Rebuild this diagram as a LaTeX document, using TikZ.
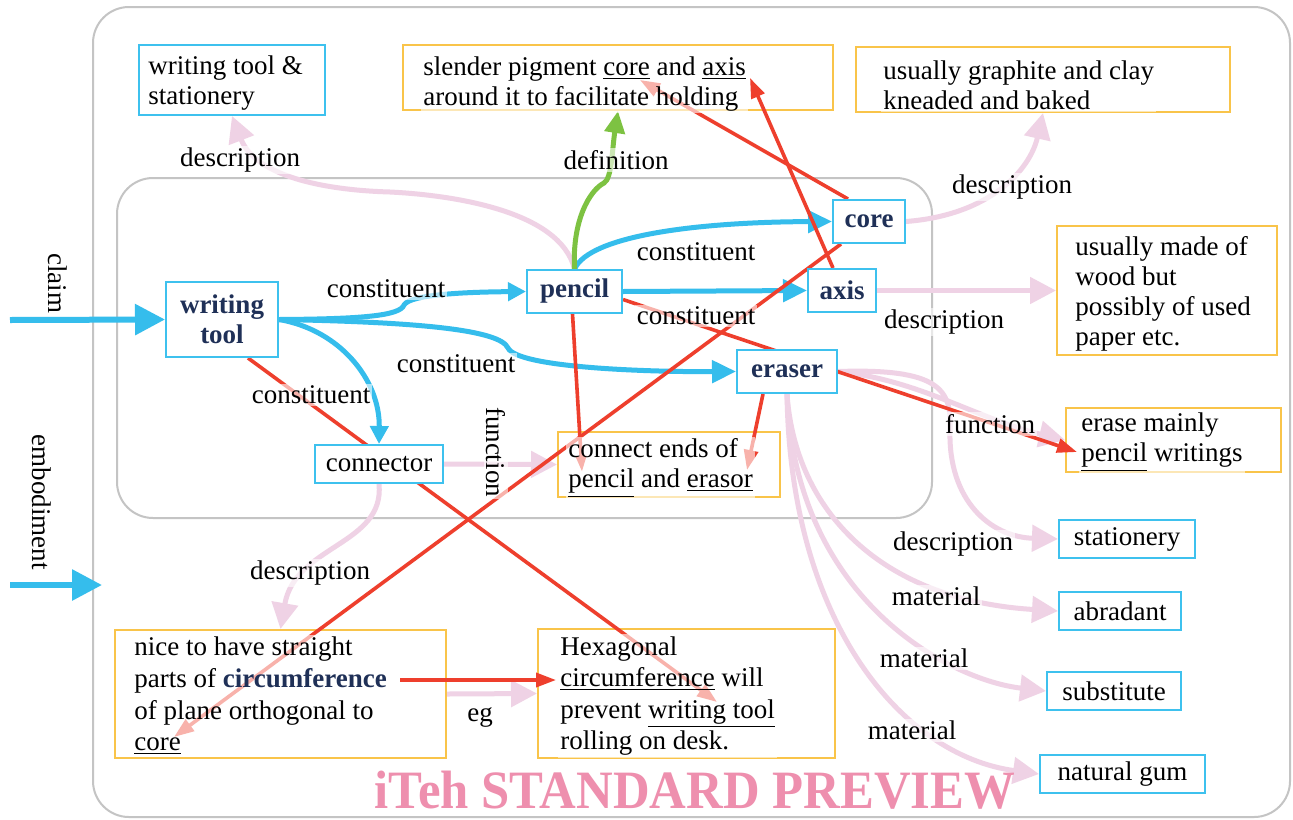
\documentclass[tikz,border=0pt]{standalone}
\usepackage{fontspec}
\setmainfont{Liberation Serif}
\usetikzlibrary{arrows.meta,calc}
\definecolor{cblue}{HTML}{35BDEC}
\definecolor{bborder}{HTML}{3EC1EE}
\definecolor{cred}{HTML}{EE3F2D}
\definecolor{cgreen}{HTML}{7DC242}
\definecolor{cpink}{HTML}{EFD2E5}
\definecolor{navy}{HTML}{1F3057}
\definecolor{corange}{HTML}{F9C44A}
\definecolor{cgray}{HTML}{C4C4C4}
\definecolor{wmark}{HTML}{EE8FAE}
\pgfdeclarelayer{bottom}
\pgfdeclarelayer{lines}
\pgfsetlayers{bottom,lines,main}
\begin{document}
\begin{tikzpicture}[x=0.5pt,y=-0.5pt,
  font=\fontsize{13.5}{15}\selectfont,
  bbox/.style={draw=bborder, line width=1pt, fill=white, inner sep=0pt, align=center},
  bnode/.style={bbox, font=\fontsize{13.5}{15}\selectfont\bfseries, text=navy},
  obox/.style={draw=corange, line width=1pt, inner sep=0pt},
  otxt/.style={anchor=west, align=left, inner sep=1pt, fill=white, fill opacity=0.6, text opacity=1},
  lbl/.style={inner sep=1pt, fill=white, fill opacity=0.6, text opacity=1},
  bl/.style={draw=cblue, line width=2.5pt, -{Triangle[length=12pt,width=11pt]}},
  bigbl/.style={draw=cblue, line width=3pt, -{Triangle[length=15pt,width=15pt]}},
  pk/.style={draw=cpink, line width=2.5pt, -{Triangle[length=13pt,width=13pt]}},
  gr/.style={draw=cgreen, line width=2.5pt, -{Triangle[length=11pt,width=10pt]}},
  rd/.style={draw=cred, line width=1.8pt, -{Triangle[length=10pt,width=7pt]}}
]
\useasboundingbox (0,0) rectangle (1293,819);
\begin{pgfonlayer}{bottom}
  \fill[white] (0,0) rectangle (1293,819);
  \draw[cgray, line width=1pt, rounded corners=18pt] (93,7) rectangle (1290,817);
  \draw[cgray, line width=1pt, rounded corners=18pt] (117,178) rectangle (932,518);
  \node[obox, minimum width=215pt, minimum height=32.5pt] (slender) at (618,77.5) {};
  \node[obox, minimum width=187pt, minimum height=32.5pt] (graphite) at (1043,79.5) {};
  \node[obox, minimum width=110pt, minimum height=64.5pt] (wood) at (1167,290.5) {};
  \node[obox, minimum width=107.5pt, minimum height=32pt] (erase) at (1173.5,440) {};
  \node[obox, minimum width=111pt, minimum height=32.5pt] (connect) at (669,464.5) {};
  \node[obox, minimum width=165.5pt, minimum height=64pt] (nice) at (280.5,694) {};
  \node[obox, minimum width=148.5pt, minimum height=64.5pt] (hexa) at (686.5,693.5) {};
\end{pgfonlayer}

% blue nodes
\node[bbox, minimum width=93pt, minimum height=35pt] (wts) at (232,80) {};
\node[anchor=west, align=left, inner sep=0pt] (twts) at (148,83) {writing tool \&\\stationery};
\node[bnode, minimum width=56pt, minimum height=37.5pt] (wtool) at (222,319.5) {writing\\tool};
\node[bnode, minimum width=47.5pt, minimum height=21.5pt] (pencil) at (574.5,291.5) {pencil};
\node[bnode, minimum width=36pt, minimum height=21.5pt] (core) at (869,221.5) {core};
\node[bnode, minimum width=34pt, minimum height=21.5pt] (axis) at (842,290.5) {axis};
\node[bnode, minimum width=50pt, minimum height=21.5pt] (eraser) at (787,371.5) {eraser};
\node[bbox, minimum width=64pt, minimum height=19pt] (connector) at (379,464) {connector};
\node[bbox, minimum width=68pt, minimum height=19pt] (stationery) at (1127,539) {stationery};
\node[bbox, minimum width=61pt, minimum height=19pt] (abradant) at (1120,611) {abradant};
\node[bbox, minimum width=67pt, minimum height=19pt] (substitute) at (1114,691) {substitute};
\node[bbox, minimum width=82.5pt, minimum height=19pt] (natgum) at (1122.5,774) {natural gum};

% texts in orange boxes
\node[otxt] (tslender) at (421,84) {slender pigment \underline{core} and \underline{axis}\\around it to facilitate holding};
\node[otxt] (tgraphite) at (881,85) {usually graphite and clay\\kneaded and baked};
\node[otxt] (twood) at (1073,294) {usually made of\\wood but\\possibly of used\\paper etc.};
\node[otxt] (terase) at (1079,442) {erase mainly\\\underline{pencil} writings};
\node[otxt] (tconnect) at (566,468) {connect ends of\\\underline{pencil} and \underline{erasor}};
\node[otxt, font=\fontsize{13.5}{15.8}\selectfont] (tnice) at (132,696) {nice to have straight\\parts of {\bfseries\color{navy}circumference}\\of plane orthogonal to\\\underline{core}};
\node[otxt, font=\fontsize{13.5}{15.8}\selectfont] (thexa) at (558,696) {Hexagonal\\\underline{circumference} will\\prevent \underline{writing tool}\\rolling on desk.};

% labels
\node[lbl] (l1) at (240,160) {description};
\node[lbl] (l2) at (616,160) {definition};
\node[lbl] (l3) at (386,289) {constituent};
\node[lbl] (l4) at (696,252) {constituent};
\node[lbl] (l5) at (696,316) {constituent};
\node[lbl] (l6) at (456,364) {constituent};
\node[lbl] (l7) at (311,395) {constituent};
\node[lbl] (l8) at (1012,187) {description};
\node[lbl] (l9) at (944,322) {description};
\node[lbl, rotate=-90] (l10) at (496,452) {function};
\node[lbl] (l11) at (990,424) {function};
\node[lbl] (l12) at (310,573) {description};
\node[lbl] (l13) at (480,717) {eg};
\node[lbl] (l14) at (953,544) {description};
\node[lbl] (l15) at (936,596) {material};
\node[lbl] (l16) at (924,658) {material};
\node[lbl] (l17) at (912,730) {material};
\node[rotate=-90] (lclaim) at (58,283) {claim};
\node[rotate=-90] (lemb) at (42,502) {embodiment};
\node[font=\fontsize{27}{27}\selectfont\bfseries, text=wmark, inner sep=0pt] (wm) at (695,790) {\scalebox{0.94}[1]{iTeh STANDARD PREVIEW}};

% free-end coordinates
\coordinate (c1) at (10,320);
\coordinate (e1) at (10,585);
\coordinate (e2) at (102,585);
\coordinate (wcore) at (640,80);
\coordinate (waxis) at (750,78);
\coordinate (ncore) at (174,737);
\coordinate (hwt) at (717,702);
\coordinate (cpen) at (582,472);
\coordinate (cera) at (747,470);
\coordinate (epen) at (1077,452);
\coordinate (ncirc) at (400,680);
\coordinate (hcirc) at (556,680);

\begin{pgfonlayer}{lines}
  % pink
  \draw[pk] (pencil.north) .. controls (560,210) and (450,195) .. (390,192) .. controls (320,190) and (255,175) .. (wts.south);
  \draw[pk] (core.east) .. controls (990,215) and (1030,170) .. (graphite.south);
  \draw[pk] (axis.east) -- (wood.west);
  \draw[pk] (connector.east) -- (connect.west);
  \draw[pk] (connector.south) .. controls (385,545) and (295,545) .. (nice.north);
  \draw[pk] (nice.east) -- (hexa.west);
  \draw[pk] (eraser.east) .. controls (940,368) and (952,390) .. (950,430) .. controls (948,500) and (990,537) .. (stationery.west);
  \draw[pk] (eraser.east) .. controls (920,380) and (980,420) .. (erase.west);
  \draw[pk] (eraser.south) .. controls (795,510) and (880,600) .. (abradant.west);
  \draw[pk] (eraser.south) .. controls (795,600) and (950,680) .. (substitute.west);
  \draw[pk] (eraser.south) .. controls (790,620) and (900,755) .. (natgum.west);
  % blue
  \draw[bigbl] (c1) -- (wtool.west);
  \draw[bigbl] (e1) -- (e2);
  \draw[bl, -{Triangle[length=9pt,width=9pt]}] (wtool.east) .. controls (360,319) and (400,316) .. (404,305) .. controls (410,294) and (470,292) .. (pencil.west);
  \draw[bl] (wtool.east) .. controls (420,322) and (500,330) .. (508,348) .. controls (518,368) and (650,372) .. (eraser.west);
  \draw[bl, -{Triangle[length=9pt,width=9pt]}] (wtool.east) .. controls (340,330) and (380,380) .. (connector.north);
  \draw[bl] (pencil.north) .. controls (590,235) and (700,222) .. (core.west);
  \draw[bl] (pencil.east) -- (axis.west);
  % green
  \draw[gr] (pencil.north) .. controls (572,220) and (590,190) .. (604,183) .. controls (612,178) and (612,150) .. (slender.south);
  % red
  \draw[rd] ($(core.north)+(-21,0)$) -- (wcore);
  \draw[rd] ($(axis.north)+(-9,0)$) -- (waxis);
  \draw[rd] ($(core.south west)+(9,0)$) -- (ncore);
  \draw[rd] ($(wtool.south)+(26,0)$) -- (hwt);
  \draw[rd, -{Triangle[length=8pt,width=5pt]}] ($(pencil.south)+(-2,0)$) -- (cpen);
  \draw[rd] ($(eraser.south)+(-24,0)$) -- (cera);
  \draw[rd] ($(pencil.east)+(0,8)$) -- (epen);
  \draw[rd] (ncirc) -- (hcirc);
\end{pgfonlayer}
\end{tikzpicture}
\end{document}
